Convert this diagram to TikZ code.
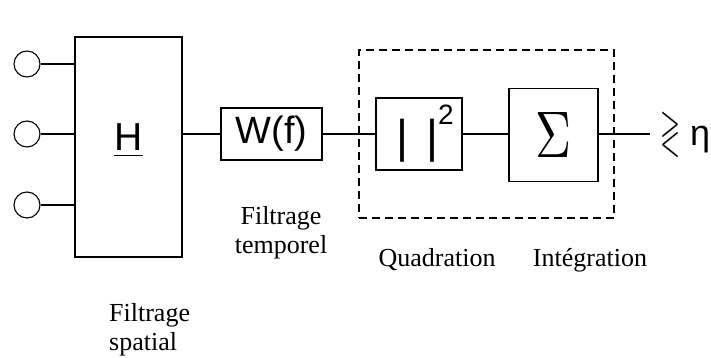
\documentclass[tikz,border=0pt]{standalone}
\usepackage{amssymb}
\usepackage{fontspec}
\setmainfont{Liberation Serif}
\newfontfamily\boxfont{Liberation Sans}
\usetikzlibrary{positioning}

\begin{document}
\begin{tikzpicture}[x=1pt,y=-1pt,
  blk/.style={draw,line width=1.2pt,inner sep=0pt,font=\boxfont},
  port/.style={draw,circle,line width=1.1pt,minimum size=26pt,inner sep=0pt},
  wire/.style={line width=1.2pt},
  caption/.style={font=\fontsize{26}{29.5}\selectfont,inner sep=0pt}]
  \useasboundingbox (0,0) rectangle (711,358);
  % capteurs
  \node[port] (c1) at (27,64) {};
  \node[port] (c2) at (27,134) {};
  \node[port] (c3) at (27,205) {};
  % blocs
  \node[blk,minimum width=107pt,minimum height=220pt] (H) at (128.5,147)
    {\raisebox{-3pt}[0pt][0pt]{\fontsize{39}{39}\selectfont\underline{H}}};
  \node[blk,minimum width=101pt,minimum height=52pt] (W) at (271.5,134)
    {\fontsize{38}{38}\selectfont W(f)};
  \node[blk,minimum width=86pt,minimum height=72pt] (Q) at (419,134)
    {\fontsize{46}{46}\selectfont\hspace{12pt}| \kern5pt|\raisebox{28pt}{\fontsize{28}{28}\selectfont 2}};
  \node[blk,minimum width=89pt,minimum height=93pt] (S) at (553.5,135)
    {\resizebox{36pt}{45pt}{$\Sigma$}};
  \node[draw,line width=1.2pt,dash pattern=on 8pt off 5pt,minimum width=255pt,
    minimum height=168pt] (grp) at (486.5,134) {};
  \coordinate (out) at (650,134);
  \node[inner sep=0pt,anchor=base west] (res) at (660,146)
    {\resizebox*{20pt}{42pt}{$\gtrless$}\hspace{10pt}{\boxfont\fontsize{36}{36}\selectfont η}};
  % liaisons
  \draw[wire] (c1) -- (c1 -| H.west);
  \draw[wire] (c2) -- (c2 -| H.west);
  \draw[wire] (c3) -- (c3 -| H.west);
  \draw[wire] (H.east |- W.west) -- (W.west);
  \draw[wire] (W) -- (Q);
  \draw[wire] (Q) -- (S.west |- Q.east);
  \draw[wire] (S.east |- out) -- (out);
  % legendes
  \node[caption,align=center,anchor=north] (lt) at (281,206) {Filtrage\\temporel};
  \node[caption,anchor=base] (lq) at (437,266) {Quadration};
  \node[caption,anchor=base] (li) at (590,266) {Intégration};
  \node[caption,align=left,anchor=north west] (ls) at (109,303) {Filtrage\\spatial};
\end{tikzpicture}
\end{document}
